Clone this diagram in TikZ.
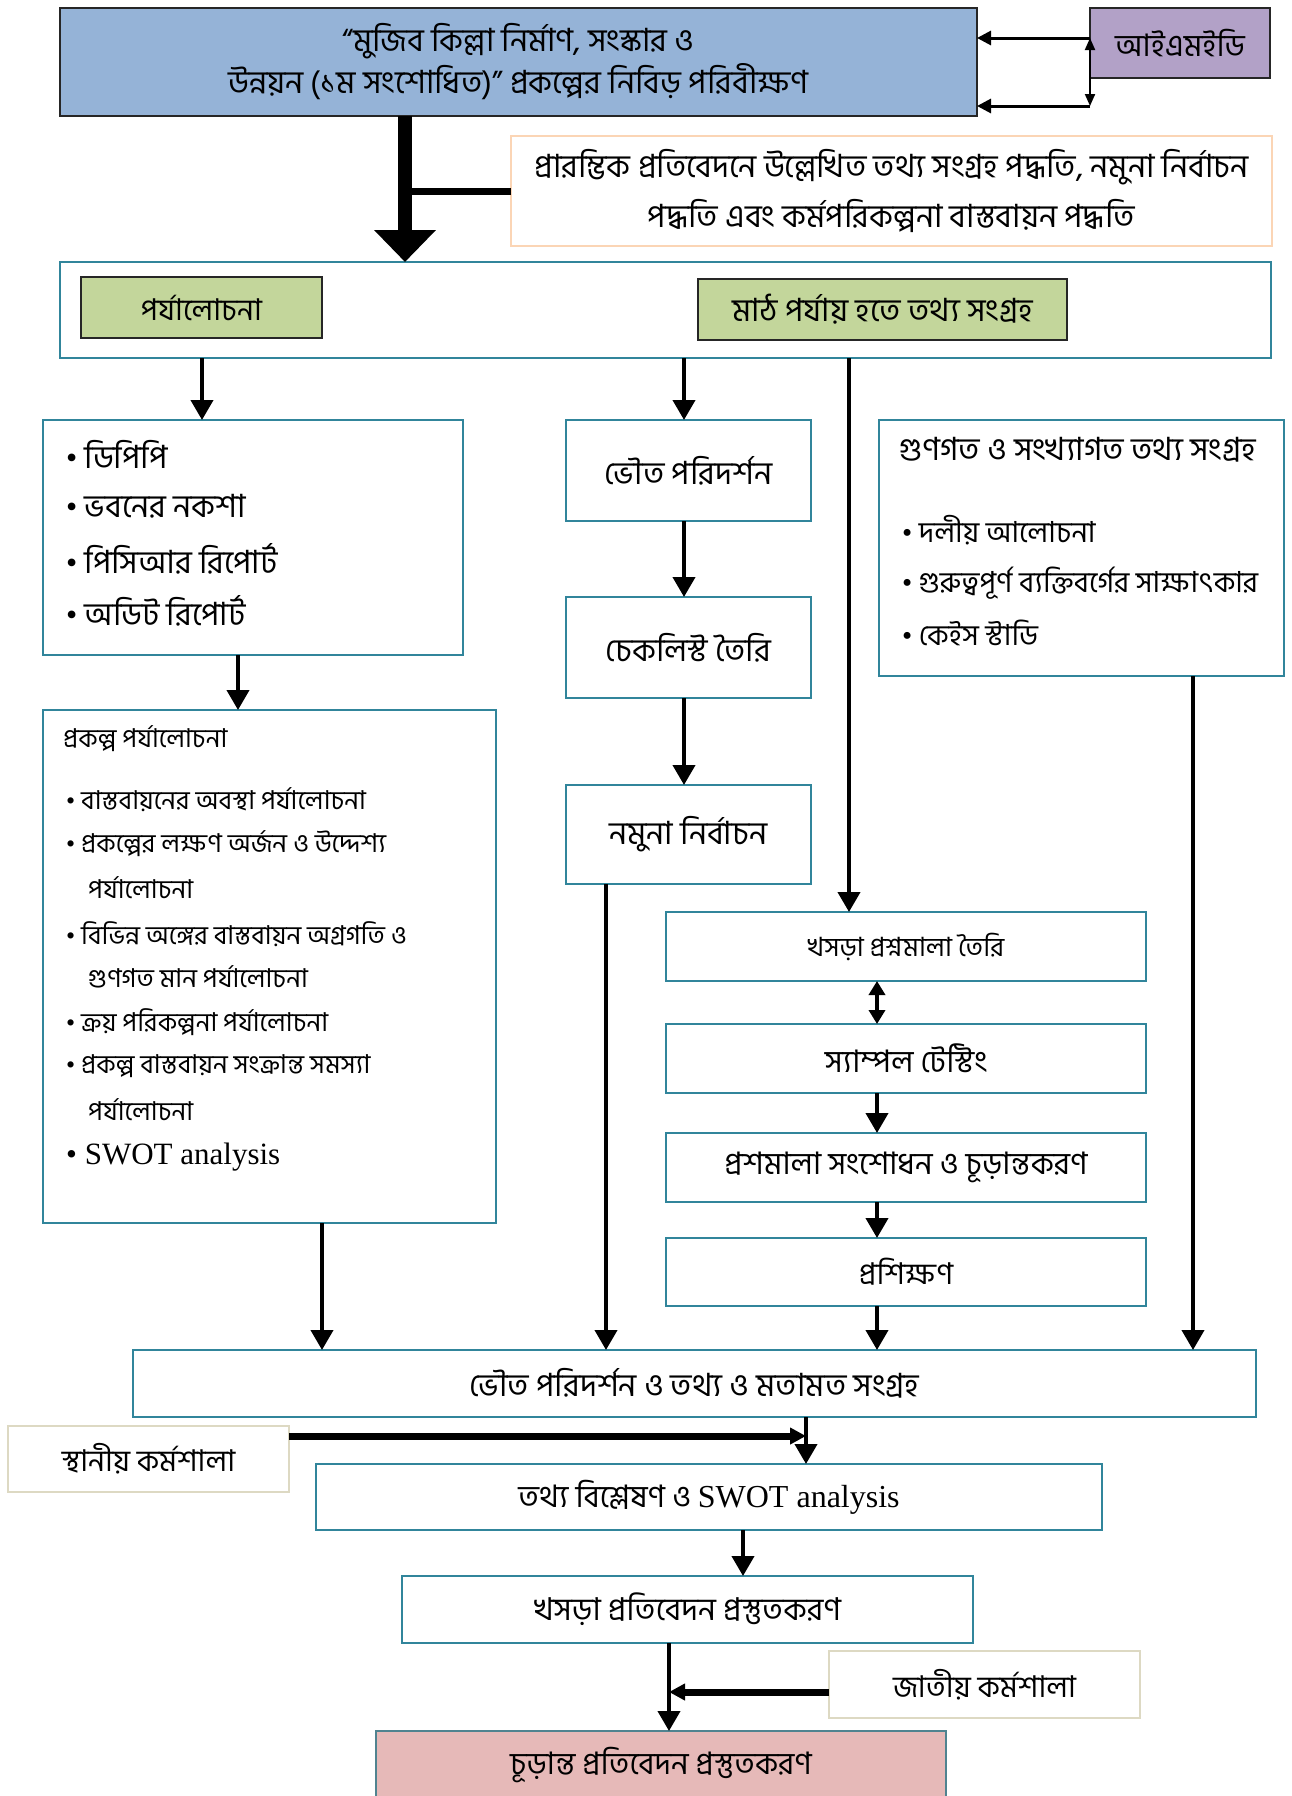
\documentclass[tikz,border=0pt]{standalone}
\usepackage{fontspec}
\setmainfont{Liberation Serif}
\newfontfamily\bn[Script=Bengali]{Hind Siliguri}
\usetikzlibrary{arrows.meta,calc}
\definecolor{tealb}{RGB}{49,133,155}
\definecolor{titlefill}{RGB}{149,179,215}
\definecolor{imedfill}{RGB}{178,161,199}
\definecolor{greenfill}{RGB}{195,214,155}
\definecolor{peach}{RGB}{251,213,181}
\definecolor{beige}{RGB}{221,217,195}
\definecolor{pinkfill}{RGB}{230,185,184}
\newcommand\fsz[2]{\fontsize{#1}{#2}\selectfont}
\begin{document}
\begin{tikzpicture}[x=1pt,y=-1pt,
  box/.style={draw=tealb, line width=2.5pt, fill=white, inner sep=0pt, outer sep=0pt, align=center, font=\bn\fsz{32}{38}},
  darkbox/.style={box, draw=black!85, line width=2pt},
  txt/.style={inner sep=0pt, anchor=west, font=\bn\fsz{32}{38}},
  qtxt/.style={inner sep=0pt, anchor=west, font=\bn\fsz{29}{34}},
  stxt/.style={inner sep=0pt, anchor=west, font=\bn\fsz{26}{30}},
  arr/.style={line width=4pt, -{Triangle[width=22pt,length=20pt]}},
  plain/.style={line width=4pt}
]
\useasboundingbox (0,0) rectangle (1292,1796);
% columns
\coordinate (cMain) at (405,0);
\coordinate (cDocs) at (202,0);
\coordinate (cRev) at (238,0);
\coordinate (cPhys) at (684,0);
\coordinate (cQ) at (849,0);
\coordinate (cRevOut) at (322,0);
\coordinate (cSamp) at (606,0);
\coordinate (cQ4) at (877,0);
\coordinate (cQual) at (1193,0);
\coordinate (cAn) at (806,0);
\coordinate (cDr) at (743,0);
\coordinate (cFin) at (669,0);
\coordinate (r1) at (0,38);
\coordinate (r2) at (0,106);
\coordinate (rLoc) at (0,1436);
\coordinate (rNat) at (0,1692);

% boxes
\node[darkbox, fill=titlefill, minimum width=917, minimum height=108, font=\bn\fsz{32}{42}] (title) at (518.5,62)
  {“মুজিব কিল্লা নির্মাণ, সংস্কার ও\\উন্নয়ন (১ম সংশোধিত)” প্রকল্পের নিবিড় পরিবীক্ষণ};
\node[darkbox, fill=imedfill, minimum width=180, minimum height=70, font=\bn\fsz{31}{36}] (imed) at (1180,43) {আইএমইডি};
\node[box, draw=peach, line width=2pt, minimum width=761, minimum height=110, font=\bn\fsz{32}{50}] (method) at (891.5,191)
  {প্রারম্ভিক প্রতিবেদনে উল্লেখিত তথ্য সংগ্রহ পদ্ধতি, নমুনা নির্বাচন\\পদ্ধতি এবং কর্মপরিকল্পনা বাস্তবায়ন পদ্ধতি};
\node[box, minimum width=1211, minimum height=96] (outer) at (665.5,310) {};
\node[darkbox, fill=greenfill, minimum width=241, minimum height=61, font=\bn\fsz{30}{36}] (g1) at (201.5,307.5) {পর্যালোচনা};
\node[darkbox, fill=greenfill, minimum width=369, minimum height=61] (g2) at (882.5,309.5) {মাঠ পর্যায় হতে তথ্য সংগ্রহ};

\node[box, minimum width=420, minimum height=235] (docs) at (253,537.5) {};
\node[txt] (d1) at (66,454) {{\rmfamily •} ডিপিপি};
\node[txt] (d2) at (66,506) {{\rmfamily •} ভবনের নকশা};
\node[txt] (d3) at (66,559) {{\rmfamily •} পিসিআর রিপোর্ট};
\node[txt] (d4) at (66,611) {{\rmfamily •} অডিট রিপোর্ট};

\node[box, minimum width=453, minimum height=513] (review) at (269.5,966.5) {};
\node[stxt] (rv0) at (63,739) {প্রকল্প পর্যালোচনা};
\node[stxt] (rv1) at (66,800) {{\rmfamily •} বাস্তবায়নের অবস্থা পর্যালোচনা};
\node[stxt] (rv2) at (66,844) {{\rmfamily •} প্রকল্পের লক্ষণ অর্জন ও উদ্দেশ্য};
\node[stxt] (rv2b) at (88,888) {পর্যালোচনা};
\node[stxt] (rv3) at (66,934) {{\rmfamily •} বিভিন্ন অঙ্গের বাস্তবায়ন অগ্রগতি ও};
\node[stxt] (rv3b) at (88,977) {গুণগত মান পর্যালোচনা};
\node[stxt] (rv4) at (66,1022) {{\rmfamily •} ক্রয় পরিকল্পনা পর্যালোচনা};
\node[stxt] (rv5) at (66,1066) {{\rmfamily •} প্রকল্প বাস্তবায়ন সংক্রান্ত সমস্যা};
\node[stxt] (rv5b) at (88,1110) {পর্যালোচনা};
\node[txt, font=\rmfamily\fsz{31}{34}] (rv6) at (66,1157) {• SWOT analysis};

\node[box, minimum width=245, minimum height=101] (phys) at (688.5,470.5) {ভৌত পরিদর্শন};
\node[box, minimum width=245, minimum height=101] (check) at (688.5,647.5) {চেকলিস্ট তৈরি};
\node[box, minimum width=245, minimum height=99] (sample) at (688.5,834.5) {নমুনা নির্বাচন};

\node[box, minimum width=405, minimum height=256] (qual) at (1081.5,548) {};
\node[txt] (ql0) at (899,450) {গুণগত ও সংখ্যাগত তথ্য সংগ্রহ};
\node[qtxt] (ql1) at (902,530) {{\rmfamily •} দলীয় আলোচনা};
\node[qtxt] (ql2) at (902,583) {{\rmfamily •} গুরুত্বপূর্ণ ব্যক্তিবর্গের সাক্ষাৎকার};
\node[qtxt] (ql3) at (902,633) {{\rmfamily •} কেইস স্টাডি};

\node[box, minimum width=480, minimum height=69, font=\bn\fsz{26.5}{30}] (q1) at (906,946.5) {খসড়া প্রশ্নমালা তৈরি};
\node[box, minimum width=480, minimum height=69, font=\bn\fsz{31}{36}] (q2) at (906,1058.5) {স্যাম্পল টেস্টিং};
\node[box, minimum width=480, minimum height=69, font=\bn\fsz{31}{36}] (q3) at (906,1167.5) {প্রশমালা সংশোধন ও চূড়ান্তকরণ};
\node[box, minimum width=480, minimum height=68, font=\bn\fsz{30}{36}] (q4) at (906,1272) {প্রশিক্ষণ};

\node[box, minimum width=1123, minimum height=67] (collect) at (694.5,1383.5) {ভৌত পরিদর্শন ও তথ্য ও মতামত সংগ্রহ};
\node[box, draw=beige, minimum width=281, minimum height=66, font=\bn\fsz{30}{36}] (local) at (148.5,1459) {স্থানীয় কর্মশালা};
\node[box, minimum width=786, minimum height=66, font=\bn\fsz{31}{36}] (analysis) at (709,1497) {তথ্য বিশ্লেষণ ও {\rmfamily\fsz{32}{36}SWOT analysis}};
\node[box, minimum width=571, minimum height=67, font=\bn\fsz{31.5}{36}] (draft) at (687.5,1609.5) {খসড়া প্রতিবেদন প্রস্তুতকরণ};
\node[box, draw=beige, minimum width=311, minimum height=67, font=\bn\fsz{30}{36}] (national) at (984.5,1684.5) {জাতীয় কর্মশালা};
\node[box, draw=tealb!60!gray, fill=pinkfill, minimum width=570, minimum height=68, font=\bn\fsz{31}{36}] (final) at (661,1765) {চূড়ান্ত প্রতিবেদন প্রস্তুতকরণ};

% connectors
\draw[line width=3pt, -{Triangle[width=14pt,length=14pt]}] (imed.west |- r1) -- (title.east |- r1);
\draw[line width=3pt, -{Triangle[width=14pt,length=14pt]}] (imed.west |- r2) -- (title.east |- r2);
\draw[line width=2pt, {Triangle[width=10pt,length=12pt]}-{Triangle[width=10pt,length=12pt]}] (imed.west |- r1) -- (imed.west |- r2);

\draw[line width=14pt, -{Triangle[width=60pt,length=32pt]}] (title.south -| cMain) -- (outer.north -| cMain);
\draw[line width=7pt] (method.west) -- (method.west -| cMain);

\draw[arr] (outer.south -| cDocs) -- (docs.north -| cDocs);
\draw[arr] (docs.south -| cRev) -- (review.north -| cRev);
\draw[arr] (outer.south -| cPhys) -- (phys.north -| cPhys);
\draw[arr] (phys.south -| cPhys) -- (check.north -| cPhys);
\draw[arr] (check.south -| cPhys) -- (sample.north -| cPhys);
\draw[arr] (outer.south -| cQ) -- (q1.north -| cQ);
\draw[line width=4pt, {Triangle[width=16pt,length=14pt]}-{Triangle[width=16pt,length=14pt]}] (q1.south -| cQ4) -- (q2.north -| cQ4);
\draw[arr] (q2.south -| cQ4) -- (q3.north -| cQ4);
\draw[arr] (q3.south -| cQ4) -- (q4.north -| cQ4);

\draw[arr] (review.south -| cRevOut) -- (collect.north -| cRevOut);
\draw[arr] (sample.south -| cSamp) -- (collect.north -| cSamp);
\draw[arr] (q4.south -| cQ4) -- (collect.north -| cQ4);
\draw[arr] (qual.south -| cQual) -- (collect.north -| cQual);

\draw[line width=7pt, -{Triangle[width=16pt,length=16pt]}] (local.east |- rLoc) -- (cAn |- rLoc);
\draw[arr] (collect.south -| cAn) -- (analysis.north -| cAn);
\draw[arr] (analysis.south -| cDr) -- (draft.north -| cDr);
\draw[arr] (draft.south -| cFin) -- (final.north -| cFin);
\draw[line width=7pt, -{Triangle[width=16pt,length=16pt]}] (national.west |- rNat) -- (cFin |- rNat);
\end{tikzpicture}
\end{document}
